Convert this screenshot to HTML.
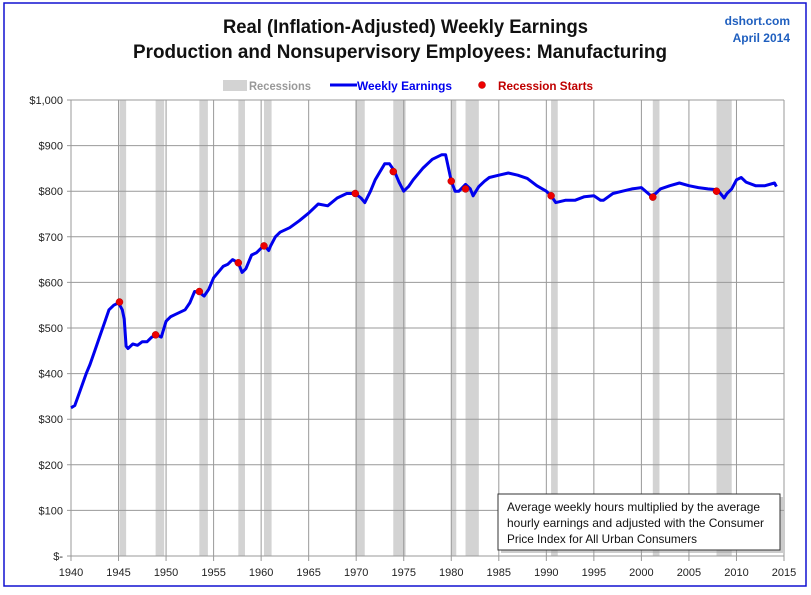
<!DOCTYPE html>
<html><head><meta charset="utf-8">
<style>
html,body{margin:0;padding:0;background:#fff;}
body{width:811px;height:590px;overflow:hidden;font-family:"Liberation Sans Narrow","Liberation Sans",sans-serif;}
svg text{font-family:"Liberation Sans Narrow","Liberation Sans",sans-serif;}
</style></head>
<body>
<svg id="chart" width="811" height="590" xmlns="http://www.w3.org/2000/svg">
<rect x="4" y="3" width="802" height="583" fill="#fff" stroke="#1010d0" stroke-width="1.5"/>
<text x="223" y="33" textLength="365" lengthAdjust="spacingAndGlyphs" font-size="19" font-weight="bold" fill="#111">Real (Inflation-Adjusted) Weekly Earnings</text>
<text x="133" y="58" textLength="534" lengthAdjust="spacingAndGlyphs" font-size="19" font-weight="bold" fill="#111">Production and Nonsupervisory Employees: Manufacturing</text>
<text x="790" y="25" text-anchor="end" font-size="12" font-weight="bold" fill="#1f5fbf">dshort.com</text>
<text x="790" y="42" text-anchor="end" font-size="12" font-weight="bold" fill="#1f5fbf">April 2014</text>
<g>
<rect x="223" y="80" width="24" height="11" fill="#d3d3d3"/>
<text x="249" y="90" textLength="62" lengthAdjust="spacingAndGlyphs" font-size="12" font-weight="bold" fill="#999">Recessions</text>
<line x1="330" y1="85" x2="357" y2="85" stroke="#0000ee" stroke-width="3"/>
<text x="357" y="90" textLength="95" lengthAdjust="spacingAndGlyphs" font-size="12" font-weight="bold" fill="#0000ee">Weekly Earnings</text>
<circle cx="482" cy="85" r="3.5" fill="#e00" stroke="#a00" stroke-width="0.5"/>
<text x="498" y="90" textLength="95" lengthAdjust="spacingAndGlyphs" font-size="12" font-weight="bold" fill="#c00000">Recession Starts</text>
</g>
<g id="plot"></g>
<g>
<rect x="501" y="497" width="282" height="56" fill="#999" opacity="0.5"/>
<rect x="498" y="494" width="282" height="56" fill="#fff" stroke="#333" stroke-width="1"/>
<text x="507" y="511" textLength="253" lengthAdjust="spacingAndGlyphs" font-size="12" fill="#111">Average weekly hours multiplied by the average</text>
<text x="507" y="527" textLength="257" lengthAdjust="spacingAndGlyphs" font-size="12" fill="#111">hourly earnings and adjusted with the Consumer</text>
<text x="507" y="543" textLength="190" lengthAdjust="spacingAndGlyphs" font-size="12" fill="#111">Price Index for All Urban Consumers</text>
</g>
</svg>
<script>
const recStart=[1945.1,1948.9,1953.5,1957.6,1960.3,1969.9,1973.9,1980.0,1981.5,1990.5,2001.2,2007.9];
const recEnd=[1945.8,1949.8,1954.4,1958.3,1961.1,1970.9,1975.2,1980.5,1982.9,1991.2,2001.9,2009.5];
const recStartValues=[557,485,580,643,680,795,843,822,805,790,787,800];
const years=[1940,1940.4,1941,1941.6,1942,1942.5,1943,1943.5,1944,1944.5,1945,1945.4,1945.6,1945.8,1946,1946.5,1947,1947.5,1948,1948.5,1949,1949.5,1950,1950.5,1951,1952,1952.5,1953,1953.5,1954,1954.5,1955,1956,1956.5,1957,1957.6,1958,1958.4,1959,1959.5,1960,1960.3,1960.8,1961,1961.5,1962,1963,1964,1965,1966,1967,1968,1969,1969.9,1970.5,1970.9,1971.5,1972,1973,1973.5,1974,1974.5,1975,1975.5,1976,1977,1978,1979,1979.4,1980,1980.4,1980.8,1981.5,1982,1982.3,1982.9,1983.5,1984,1985,1986,1987,1988,1989,1990,1990.5,1991,1992,1993,1994,1995,1995.7,1996,1997,1998,1999,2000,2001,2001.5,2002,2003,2004,2005,2006,2007,2008,2008.7,2009,2009.5,2010,2010.5,2011,2012,2013,2014,2014.2];
const values=[325,330,365,400,420,450,480,510,540,550,555,540,520,460,455,465,462,470,470,480,485,480,515,525,530,540,555,580,578,570,585,610,635,640,650,643,622,630,660,665,675,682,670,680,700,710,720,735,752,772,768,785,795,795,785,775,800,825,860,860,845,820,800,810,825,850,870,880,880,822,800,800,815,805,790,810,822,830,835,840,835,828,812,800,790,775,780,780,788,790,780,780,795,800,805,808,790,795,805,812,818,812,808,805,803,785,795,805,825,830,820,812,812,818,810];
const yTicks=[0,100,200,300,400,500,600,700,800,900,1000];
const yTickLabels=["$-","$100","$200","$300","$400","$500","$600","$700","$800","$900","$1,000"];
const xTicks=[1940,1945,1950,1955,1960,1965,1970,1975,1980,1985,1990,1995,2000,2005,2010,2015];

const X0=71,X1=784,Y0=556,Y1=100;
const xs=v=>X0+(v-1940)/(2015-1940)*(X1-X0);
const ys=v=>Y0-(v/1000)*(Y0-Y1);
const NS="http://www.w3.org/2000/svg";
const g=document.getElementById('plot');
function mk(t,a){const e=document.createElementNS(NS,t);for(const k in a)e.setAttribute(k,a[k]);g.appendChild(e);return e;}

for(let i=0;i<recStart.length;i++){
  const r=mk('rect',{x:xs(recStart[i]),y:Y1,width:Math.max(xs(recEnd[i])-xs(recStart[i]),5),height:Y0-Y1,fill:'#d3d3d3'});
  
  
}
yTicks.forEach((t,i)=>{
  const l=mk('line',{x1:X0-4,x2:X1,y1:ys(t),y2:ys(t),stroke:'#999','stroke-width':1});
  
  
  const tx=mk('text',{x:X0-8,y:ys(t)+4,'text-anchor':'end','font-size':11,fill:'#222'});
  tx.textContent=yTickLabels[i];
  
  
});
xTicks.forEach(t=>{
  const l=mk('line',{x1:xs(t),x2:xs(t),y1:Y1,y2:Y0+5,stroke:'#999','stroke-width':1});
  
  
  const tx=mk('text',{x:xs(t),y:Y0+20,'text-anchor':'middle','font-size':11,fill:'#222'});
  tx.textContent=t;
  
  
});
let d='';
years.forEach((y,i)=>{d+=(i?'L':'M')+xs(y).toFixed(1)+','+ys(values[i]).toFixed(1);});
const p=mk('path',{d:d,fill:'none',stroke:'#0000ee','stroke-width':3,'stroke-linejoin':'round'});


recStart.forEach((y,i)=>{
  const c=mk('circle',{cx:xs(y),cy:ys(recStartValues[i]),r:3.5,fill:'#ee0000',stroke:'#a00','stroke-width':0.5});
  
  
});
</script>
</body></html>
